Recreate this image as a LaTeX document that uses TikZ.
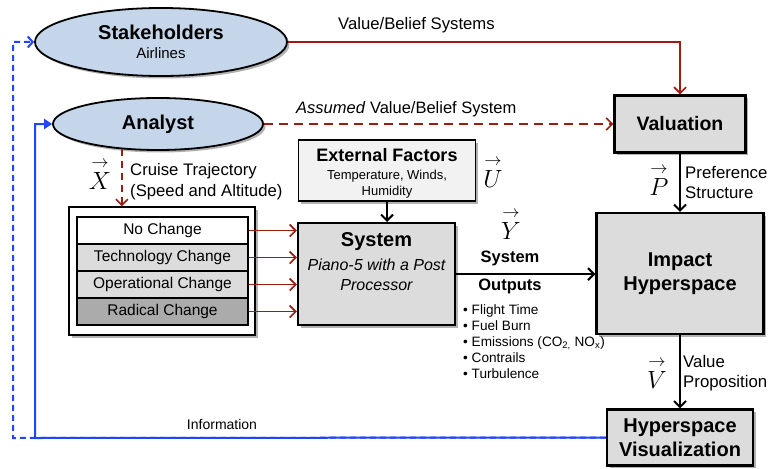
\documentclass[tikz,border=0pt]{standalone}
\usepackage{amsmath}
\usepackage{fontspec}
\setmainfont{Liberation Sans}
\usetikzlibrary{arrows.meta,shapes.geometric,shadows,calc}
\definecolor{ered}{HTML}{9E1B0F}
\definecolor{eblue}{HTML}{1F45FF}
\definecolor{ellfill}{HTML}{C5D6EA}
\definecolor{boxfill}{HTML}{DCDCDC}
\definecolor{lightfill}{HTML}{F2F2F2}
\definecolor{darkfill}{HTML}{ABABAB}
\newcommand{\fs}[2]{\fontsize{#1}{#2}\selectfont}
\newcommand{\vecsym}[1]{$\overset{\rightarrow}{#1}$}
\tikzset{
  shad/.style={drop shadow={shadow xshift=2.5pt,shadow yshift=-2.5pt,fill=black,opacity=0.3}},
  ell/.style={ellipse,draw,line width=1.8pt,fill=ellfill,inner sep=0pt,align=center,shad},
  bigbox/.style={rectangle,draw,line width=2.2pt,fill=boxfill,inner sep=0pt,align=center,shad},
  rowbox/.style={rectangle,draw,line width=1.6pt,inner sep=0pt,minimum width=171pt,minimum height=27pt,font=\fs{15.5}{18}},
  redarr/.style={draw=ered,line width=1.7pt,-{Straight Barb[length=6pt,width=12pt,line width=1.7pt]}},
  blkarr/.style={draw=black,line width=2pt,-{Straight Barb[length=6pt,width=12pt,line width=2pt]}},
  lbl/.style={inner sep=0pt,align=left},
  vecl/.style={inner sep=0pt,font=\fs{24}{24}}
}
\begin{document}
\begin{tikzpicture}[x=1pt,y=-1pt]
\useasboundingbox (0,0) rectangle (775,468);

% ellipses
\node[ell,minimum width=252pt,minimum height=68pt,font=\fs{15}{15}] (stake) at (161,42)
  {{\fs{20}{20}\bfseries Stakeholders}\\[4pt]Airlines};
\node[ell,minimum width=210pt,minimum height=52pt,font=\fs{20}{20}\bfseries] (analyst) at (158,124)
  {Analyst};

% boxes
\node[bigbox,minimum width=131pt,minimum height=57pt,font=\fs{19.5}{20}\bfseries] (val) at (680,124)
  {Valuation};
\node[bigbox,fill=lightfill,line width=1.8pt,minimum width=177pt,minimum height=61pt] (ext) at (387,170.5) {};
\node[align=center,inner sep=0pt,font=\fs{13}{15.5}] (exttxt) at (387,173)
  {{\fs{18}{18}\bfseries External Factors}\\[3pt]Temperature, Winds,\\Humidity};
\node[bigbox,minimum width=157pt,minimum height=102pt,anchor=north] (sys) at (376.5,222) {};
\node[align=center,inner sep=0pt,anchor=north,font=\fs{16}{20}\itshape] (systxt) at (376.5,232)
  {{\fs{20}{20}\bfseries\upshape System}\\[4pt]Piano-5 with a Post\\Processor};
\node[bigbox,minimum width=167pt,minimum height=121pt,font=\fs{20}{24}\bfseries] (imp) at (680,273.5)
  {Impact\\Hyperspace};
\node[bigbox,minimum width=146pt,minimum height=56pt,font=\fs{20}{24}\bfseries] (hv) at (680,437.5)
  {Hyperspace\\Visualization};

% left container and rows
\node[rectangle,draw,line width=1.3pt,fill=white,minimum width=186pt,minimum height=128pt,shad] (lbox) at (162,271) {};
\node[rowbox,fill=white] (r1) at (162.5,230.5) {No Change};
\node[rowbox,fill=boxfill] (r2) at (162.5,257.5) {Technology Change};
\node[rowbox,fill=boxfill] (r3) at (162.5,284.5) {Operational Change};
\node[rowbox,fill=darkfill] (r4) at (162.5,311.5) {Radical Change};

% red connectors
\draw[redarr] (stake.east) -| (val.north);
\draw[redarr,dash pattern=on 9pt off 6pt] (analyst.east) -- (analyst.east -| val.west);
\draw[redarr,dash pattern=on 7pt off 5pt] (analyst.215) -- (analyst.215 |- lbox.north);
\foreach \r in {r1,r2,r3,r4} \draw[redarr] (\r.east) -- (\r.east -| sys.west);

% black connectors
\draw[blkarr] (ext.south) -- (ext.south |- sys.north);
\draw[blkarr] (sys.east) -- (sys.east -| imp.west);
\draw[blkarr] (val.south) -- (imp.north);
\draw[blkarr] (imp.south) -- (hv.north);

% blue feedback
\coordinate (bl1) at (35,438);
\coordinate (bl2) at (13,438);
\draw[eblue,line width=2pt,dash pattern=on 6pt off 4pt,-{Straight Barb[length=5pt,width=11pt,line width=2pt]}] (hv.west) -- (bl2) |- (stake.west);
\draw[eblue,line width=2pt,-{Triangle[length=8pt,width=10pt]}] (hv.west) -- (bl1) |- (analyst.west);

% labels
\node[lbl,anchor=west,font=\fs{16.7}{16.7}] (lvb) at (338,25) {Value/Belief Systems};
\node[lbl,anchor=west,font=\fs{16.5}{16.5}] (lavb) at (296,109) {\textit{Assumed} Value/Belief System};
\node[vecl] (vx) at (100,174) {\vecsym{X}};
\node[lbl,anchor=west,font=\fs{16.7}{21}] (lct) at (130,181.5) {Cruise Trajectory\\(Speed and Altitude)};
\node[vecl] (vu) at (493,172) {\vecsym{U}};
\node[vecl] (vy) at (511,224) {\vecsym{Y}};
\node[lbl,align=center,font=\fs{16.5}{28}\bfseries] (lso) at (510,272) {System\\Outputs};
\node[lbl,anchor=north west,font=\fs{13.6}{16}] (lbul) at (463,304)
  {\textbullet\ Flight Time\\\textbullet\ Fuel Burn\\\textbullet\ Emissions (CO\textsubscript{2,} NO\textsubscript{x})\\\textbullet\ Contrails\\\textbullet\ Turbulence};
\node[vecl] (vp) at (659,180) {\vecsym{P}};
\node[lbl,anchor=west,font=\fs{16.8}{20}] (lps) at (685,183) {Preference\\Structure};
\node[vecl] (vv) at (657,373) {\vecsym{V}};
\node[lbl,anchor=west,font=\fs{16.8}{20}] (lvp) at (683,373) {Value\\Proposition};
\node[lbl,font=\fs{14}{14}] (linfo) at (222,424) {Information};
\end{tikzpicture}
\end{document}
